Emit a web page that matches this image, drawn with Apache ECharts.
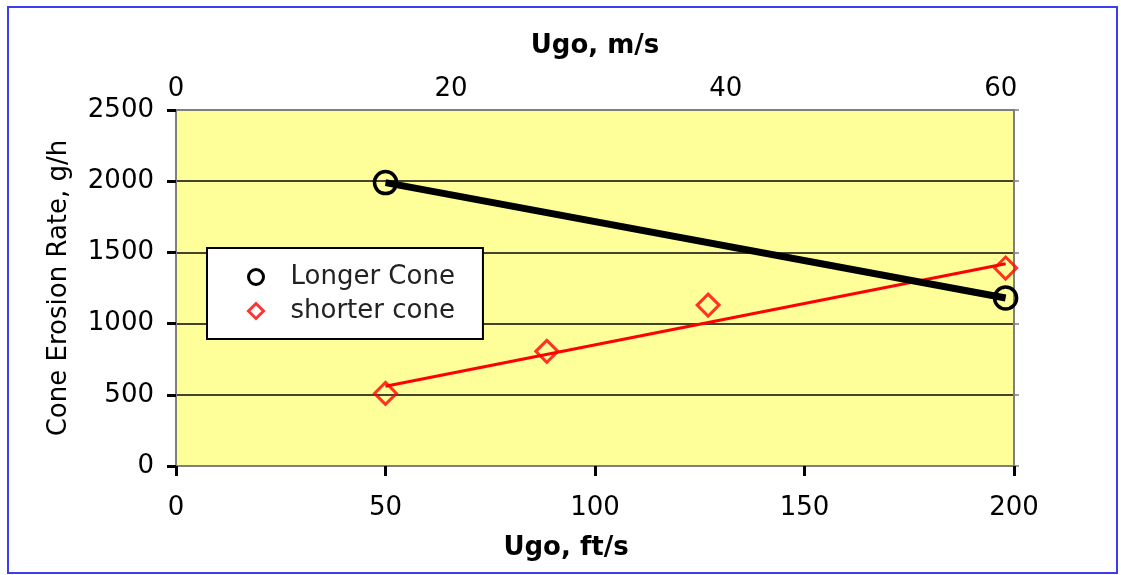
<!DOCTYPE html>
<html>
<head>
<meta charset="utf-8">
<script src="https://cdn.jsdelivr.net/npm/echarts@6/dist/echarts.min.js"></script>
<style>
  html, body { margin: 0; padding: 0; background: #ffffff; }
  #chart { width: 1121px; height: 575px; }
</style>
</head>
<body>
<div id="chart"></div>
<script>
// ---- Data ----
const longerConeX = [50, 198];          // Ugo, ft/s
const longerConeY = [1990, 1180];       // Cone Erosion Rate, g/h
const shorterConeX = [50, 88.5, 127, 198];
const shorterConeY = [510, 805, 1130, 1390];
const shorterTrendX = [50, 198];        // fitted straight line end points
const shorterTrendY = [560, 1420];

const seriesNames = ['Longer Cone', 'shorter cone'];
const bottomAxisRange = [0, 200];  const bottomAxisStep = 50;   // ft/s
const topAxisRange = [0, 60.96];   const topAxisStep = 20;      // m/s (200 ft/s = 60.96 m/s)
const yAxisRange = [0, 2500];      const yAxisStep = 500;

const axisTitles = { bottom: 'Ugo, ft/s', top: 'Ugo, m/s', left: 'Cone Erosion Rate, g/h' };

function zip(xs, ys) { return xs.map((x, i) => [x, ys[i]]); }
function plain(v) { return String(Math.round(v)); }

const FONT = 'DejaVu Sans';
const chart = echarts.init(document.getElementById('chart'), null, { renderer: 'canvas' });

const option = {
  animation: false,
  backgroundColor: '#ffffff',
  grid: {
    left: 176, right: 107, top: 110, bottom: 109,
    show: true, backgroundColor: '#FFFF99', borderWidth: 0
  },
  graphic: [{
    type: 'rect',
    shape: { x: 8, y: 7, width: 1109, height: 566 },
    style: { fill: 'none', stroke: '#3c3cf0', lineWidth: 2 },
    silent: true, z: 100
  }],
  legend: {
    orient: 'vertical',
    left: 207, top: 248,
    padding: [16, 28, 15, 40],
    itemWidth: 15, itemHeight: 15, itemGap: 8,
    backgroundColor: '#ffffff',
    borderColor: '#000000', borderWidth: 2,
    textStyle: { fontFamily: FONT, fontSize: 26, color: '#222222', lineHeight: 25, padding: [0, 0, 0, 22] },
    data: [
      { name: seriesNames[0], icon: 'circle',
        itemStyle: { color: 'rgba(0,0,0,0)', borderColor: '#000000', borderWidth: 3 } },
      { name: seriesNames[1], icon: 'diamond',
        itemStyle: { color: 'rgba(0,0,0,0)', borderColor: '#ff0000', borderWidth: 3 } }
    ]
  },
  xAxis: [
    {
      type: 'value', position: 'bottom',
      min: bottomAxisRange[0], max: bottomAxisRange[1], interval: bottomAxisStep,
      name: axisTitles.bottom, nameLocation: 'middle', nameGap: 69,
      nameTextStyle: { fontFamily: FONT, fontSize: 26, fontWeight: 'bold', color: '#000', padding: [0, 58, 0, 0] },
      axisLine: { show: true, onZero: false, lineStyle: { color: '#7f7f7f', width: 2 } },
      axisTick: { show: true, inside: false, length: 10, lineStyle: { color: '#000', width: 3 } },
      axisLabel: { fontFamily: FONT, fontSize: 26, color: '#000', margin: 29, formatter: plain },
      splitLine: { show: false }
    },
    {
      type: 'value', position: 'top',
      min: topAxisRange[0], max: topAxisRange[1], interval: topAxisStep,
      name: axisTitles.top, nameLocation: 'middle', nameGap: 51,
      nameTextStyle: { fontFamily: FONT, fontSize: 26, fontWeight: 'bold', color: '#000' },
      axisLine: { show: true, onZero: false, lineStyle: { color: '#7f7f7f', width: 2 } },
      axisTick: { show: false },
      axisLabel: { fontFamily: FONT, fontSize: 26, color: '#000', margin: 8, showMaxLabel: false, formatter: plain },
      splitLine: { show: false }
    }
  ],
  yAxis: [
    {
      type: 'value', position: 'left',
      min: yAxisRange[0], max: yAxisRange[1], interval: yAxisStep,
      name: axisTitles.left, nameLocation: 'middle', nameGap: 104, nameRotate: 90,
      nameTextStyle: { fontFamily: FONT, fontSize: 26, color: '#000' },
      axisLine: { show: true, onZero: false, lineStyle: { color: '#7f7f7f', width: 2 } },
      axisTick: { show: true, inside: false, length: 9, lineStyle: { color: '#000', width: 3 } },
      axisLabel: { fontFamily: FONT, fontSize: 26, color: '#000', margin: 22, formatter: plain },
      splitLine: { show: true, lineStyle: { color: ['#7f7f7f', '#44442e', '#44442e', '#44442e', '#44442e', '#7f7f7f'], width: 2 } }
    },
    {
      type: 'value', position: 'right',
      min: yAxisRange[0], max: yAxisRange[1], interval: yAxisStep,
      axisLine: { show: true, onZero: false, lineStyle: { color: '#7f7f7f', width: 2 } },
      axisTick: { show: true, inside: false, length: 5, lineStyle: { color: '#7f7f7f', width: 1.5 } },
      axisLabel: { show: false },
      splitLine: { show: false }
    }
  ],
  series: [
    {
      name: 'shorter cone trend', type: 'line',
      xAxisIndex: 0, yAxisIndex: 0,
      data: zip(shorterTrendX, shorterTrendY),
      symbol: 'none', showSymbol: false, silent: true,
      lineStyle: { color: '#ff0000', width: 3 },
      z: 2
    },
    {
      name: seriesNames[0], type: 'line',
      xAxisIndex: 0, yAxisIndex: 0,
      data: zip(longerConeX, longerConeY),
      symbol: 'circle', symbolSize: 22, showSymbol: true,
      itemStyle: { color: 'rgba(0,0,0,0)', borderColor: '#000000', borderWidth: 3.5 },
      lineStyle: { color: '#000000', width: 7 },
      z: 3
    },
    {
      name: seriesNames[1], type: 'scatter',
      xAxisIndex: 0, yAxisIndex: 0,
      data: zip(shorterConeX, shorterConeY),
      symbol: 'diamond', symbolSize: 22,
      itemStyle: { color: 'rgba(0,0,0,0)', borderColor: '#ff0000', borderWidth: 3 },
      z: 4
    }
  ]
};

chart.setOption(option);
</script>
</body>
</html>
